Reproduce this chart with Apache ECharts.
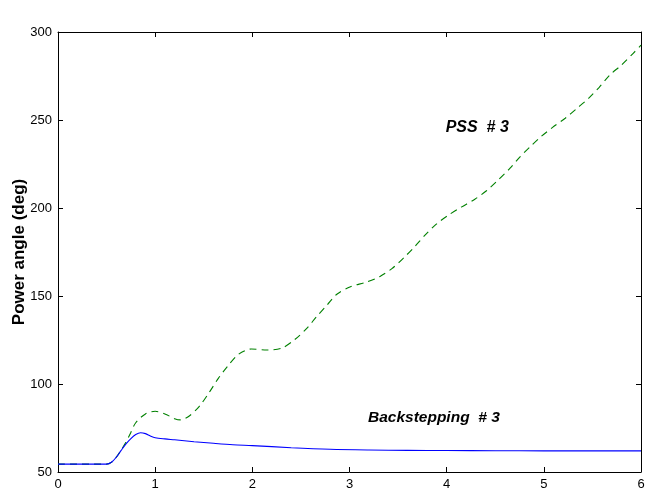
<!DOCTYPE html>
<html>
<head>
<meta charset="utf-8">
<script src="https://cdn.jsdelivr.net/npm/echarts@6/dist/echarts.min.js"></script>
<style>
  html, body { margin: 0; padding: 0; background: #fff; }
  #chart { width: 657px; height: 492px; }
</style>
</head>
<body>
<div id="chart"></div>
<script>
// time (s) and power angle (deg)
var back_t = [0, 0.5, 0.55, 0.6, 0.65, 0.7, 0.75, 0.8, 0.85, 0.9, 0.95, 1.0, 1.1, 1.2, 1.4, 1.6, 1.8, 2.0, 2.4, 2.8, 3.2, 3.6, 4, 4.5, 5, 5.5, 6];
var back_v = [54.5, 54.5, 55.5, 58.4, 62.3, 66, 69, 71.3, 72.3, 71.8, 70.5, 69.5, 68.8, 68.3, 67.2, 66.3, 65.5, 65, 63.8, 62.9, 62.5, 62.3, 62.2, 62.1, 62, 62, 62];

var pss_t = [0, 0.5, 0.55, 0.6, 0.65, 0.7, 0.75, 0.8, 0.9, 1.0, 1.1, 1.2, 1.26, 1.34, 1.45, 1.56, 1.65, 1.75, 1.86, 1.99, 2.15, 2.3, 2.44, 2.56, 2.66, 2.77, 2.87, 3.01, 3.17, 3.31, 3.44, 3.56, 3.67, 3.78, 3.89, 4.02, 4.15, 4.29, 4.41, 4.53, 4.65, 4.75, 4.86, 4.97, 5.09, 5.22, 5.34, 5.46, 5.57, 5.68, 5.8, 5.92, 6];
var pss_v = [54.5, 54.5, 55.5, 58.4, 62.5, 67, 72.5, 78, 83, 84.5, 83, 80.3, 79.6, 81.4, 87, 95.5, 103.2, 110.4, 117, 119.9, 119.3, 120.3, 125.4, 131.6, 138.2, 144.9, 151, 155.3, 157.8, 161, 165.7, 171.8, 178, 184.7, 190.7, 196, 200.5, 205, 209.8, 215.9, 222.5, 228.8, 234.8, 240.5, 245.8, 251, 256.6, 262.3, 268.6, 275.6, 281.3, 287.9, 292.5];

var x_min = 0, x_max = 6, x_step = 1;
var y_min = 50, y_max = 300, y_step = 50;

function pairs(t, v) {
    return t.map(function (x, i) { return [x, v[i]] })
}

var font = 'Liberation Sans, Arial, Helvetica, sans-serif';

chart = echarts.init(document.getElementById("chart"));

function box_axis(pos, isX, showLabel) {
    return {
        type: 'value',
        position: pos,
        min: isX ? x_min : y_min,
        max: isX ? x_max : y_max,
        interval: isX ? x_step : y_step,
        axisLine: { show: true, onZero: false, lineStyle: { color: '#000', width: 1 } },
        axisTick: { show: true, inside: true, length: 5, lineStyle: { color: '#000' } },
        axisLabel: { show: showLabel, color: '#000', fontSize: 13, fontFamily: font, margin: 6 },
        splitLine: { show: false }
    }
}

var xb = box_axis('bottom', true, true);
var xt = box_axis('top', true, false);
var yl = box_axis('left', false, true);
var yr = box_axis('right', false, false);
yl.name = 'Power angle (deg)';
yl.nameLocation = 'middle';
yl.nameGap = 30;
yl.nameMoveOverlap = false;
yl.nameTextStyle = { color: '#000', fontSize: 17, fontWeight: 'bold', fontFamily: font };

chart.setOption({
    animation: false,
    backgroundColor: '#fff',
    grid: { left: 58, right: 16, top: 32, bottom: 20, outerBoundsMode: 'none', containLabel: false },
    xAxis: [xb, xt],
    yAxis: [yl, yr],
    series: [
        {
            name: 'PSS # 3',
            type: 'line',
            data: pairs(pss_t, pss_v),
            smooth: 0.3,
            showSymbol: false,
            lineStyle: { color: '#008000', width: 1.1, type: [7, 5] }
        },
        {
            name: 'Backstepping # 3',
            type: 'line',
            data: pairs(back_t, back_v),
            smooth: 0.3,
            showSymbol: false,
            lineStyle: { color: '#0000ff', width: 1.1 }
        }
    ]
});

// curve labels placed at data coordinates
var p1 = chart.convertToPixel({ gridIndex: 0 }, [3.99, 245.5]);
var p2 = chart.convertToPixel({ gridIndex: 0 }, [3.19, 81]);
chart.setOption({
    graphic: [
        {
            type: 'text', x: p1[0], y: p1[1],
            style: { text: 'PSS  # 3', font: 'italic bold 16px ' + font, fill: '#000', textVerticalAlign: 'middle' }
        },
        {
            type: 'text', x: p2[0], y: p2[1],
            style: { text: 'Backstepping  # 3', font: 'italic bold 15.5px ' + font, fill: '#000', textVerticalAlign: 'middle' }
        }
    ]
});
</script>
</body>
</html>
